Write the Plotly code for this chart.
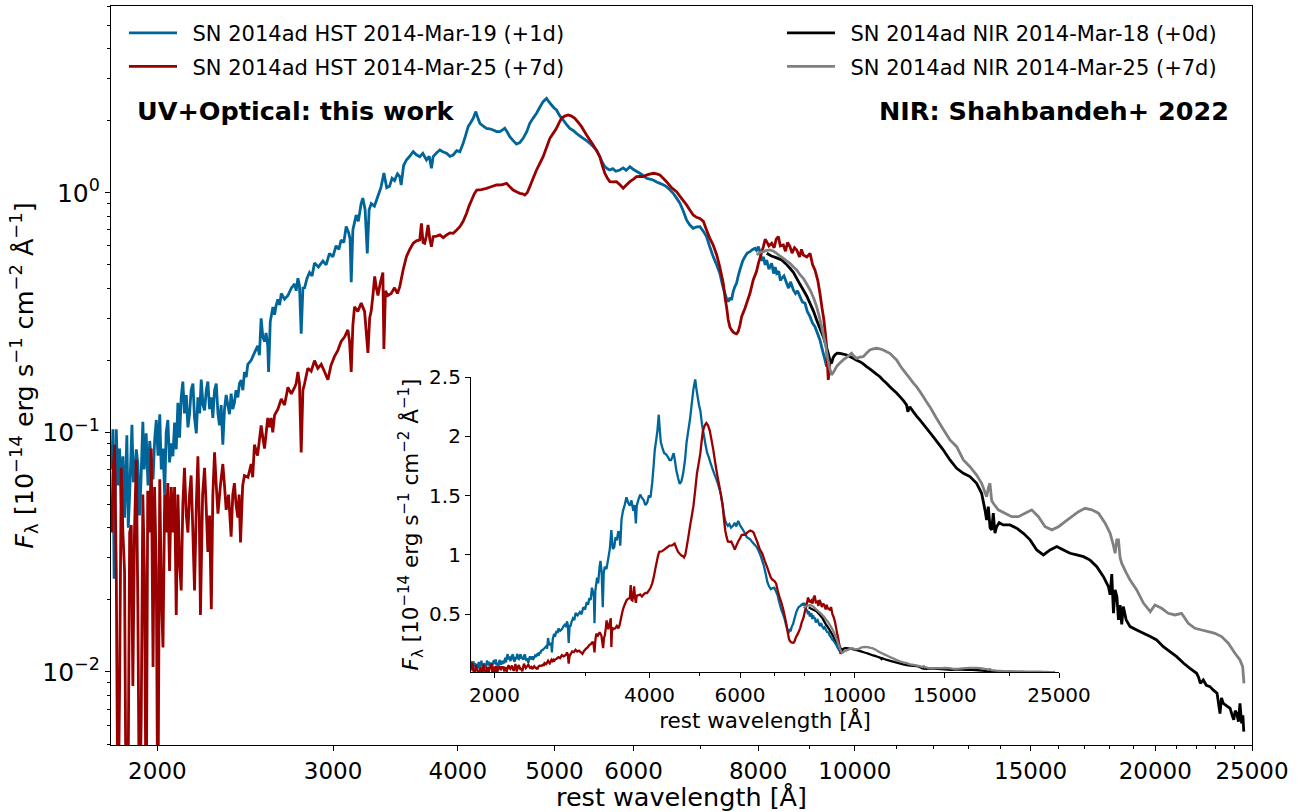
import math
import plotly.graph_objects as go

# ---------------- data (rest wavelength [A], F_lambda [1e-14 erg/s/cm2/A]) ----------------
hst_p1 = [
(1800,0.070),(1805,0.103),(1810,0.0245),(1819,0.103),(1826,0.060),(1833,0.0856),(1840,0.050),(1847,0.0795),(1854,0.0441),(1864,0.0973),(1870,0.040),(1876,0.055),(1886,0.1075),(1892,0.062),(1897,0.0661),(1905,0.085),(1912,0.0738),(1919,0.045),(1925,0.060),(1934,0.1107),(1940,0.070),(1949,0.0991),(1957,0.060),(1965,0.0921),(1972,0.075),(1980,0.0637),(1988,0.095),(1995,0.1127),(2003,0.080),(2011,0.1191),(2018,0.070),(2026,0.0856),(2034,0.055),(2041,0.100),(2049,0.1127),(2057,0.075),(2065,0.090),(2073,0.0795),(2081,0.110),(2089,0.085),(2097,0.133),(2105,0.095),(2113,0.140),(2121,0.163),(2129,0.120),(2138,0.1432),(2146,0.105),(2154,0.1191),(2162,0.150),(2171,0.160),(2179,0.115),(2188,0.0991),(2196,0.140),(2205,0.120),(2213,0.166),(2222,0.130),(2230,0.1236),(2239,0.150),(2247,0.163),(2256,0.125),(2265,0.140),(2273,0.1149),(2282,0.150),(2291,0.160),(2300,0.120),(2308,0.1069),(2317,0.130),(2326,0.0888),(2335,0.125),(2344,0.1432),(2353,0.130),(2362,0.1191),(2371,0.145),(2380,0.125),(2389,0.133),(2398,0.150),(2408,0.140),(2417,0.160),(2427,0.165),(2436,0.150),(2445,0.1786),(2455,0.170),(2464,0.1922),(2483,0.200),(2502,0.2147),(2521,0.230),(2531,0.210),(2541,0.299),(2551,0.250),(2561,0.2397),(2570,0.260),(2580,0.230),(2585,0.1786),(2595,0.290),(2611,0.3339),(2621,0.310),(2631,0.340),(2641,0.3593),(2652,0.340),(2662,0.3797),(2682,0.360),(2703,0.3727),(2724,0.400),(2745,0.4163),(2755,0.390),(2766,0.4398),(2776,0.410),(2787,0.258),(2798,0.400),(2809,0.4013),(2825,0.440),(2841,0.4649),(2858,0.450),(2874,0.5098),(2900,0.490),(2930,0.5193),(2952,0.500),(2975,0.5587),(2998,0.540),(3021,0.6013),(3040,0.580),(3056,0.6355),(3075,0.620),(3092,0.7231),(3110,0.680),(3120,0.640),(3128,0.4239),(3140,0.700),(3164,0.8072),(3180,0.760),(3200,0.900),(3213,0.950),(3230,0.850),(3246,0.5587),(3260,0.850),(3276,0.9015),(3300,0.880),(3327,0.9703),(3350,1.050),(3373,1.21),(3395,1.050),(3417,1.064),(3437,1.150),(3457,1.124),(3480,1.200),(3499,1.168),(3510,1.078),(3530,1.300),(3553,1.371),(3580,1.420),(3609,1.485),(3636,1.440),(3664,1.415),(3690,1.460),(3721,1.371),(3745,1.420),(3764,1.265),(3779,1.415),(3810,1.470),(3838,1.509),(3868,1.480),(3898,1.462),(3928,1.420),(3958,1.438),(3990,1.500),(4019,1.485),(4050,1.609),(4075,1.750),(4097,1.888),(4120,1.960),(4145,2.046),(4170,2.182),(4190,2.050),(4209,1.950),(4240,1.900),(4273,1.858),(4305,1.850),(4340,1.829),(4375,1.800),(4407,1.800),(4435,1.830),(4458,1.858),(4485,1.790),(4510,1.715),(4545,1.650),(4580,1.598),(4615,1.620),(4651,1.688),(4690,1.800),(4723,1.950),(4760,2.050),(4797,2.147),(4835,2.280),(4871,2.401),(4909,2.479),(4935,2.400),(4966,2.325),(4995,2.260),(5023,2.216),(5060,2.100),(5101,2.013),(5140,1.930),(5180,1.858),(5220,1.820),(5260,1.771),(5300,1.730),(5342,1.688),(5384,1.650),(5425,1.609),(5467,1.560),(5509,1.509),(5551,1.415),(5583,1.340),(5616,1.286),(5650,1.260),(5681,1.245),(5720,1.260),(5760,1.230),(5813,1.245),(5860,1.270),(5900,1.240),(5950,1.286),(6000,1.250),(6040,1.230),(6089,1.206),(6136,1.180),(6184,1.150),(6230,1.140),(6279,1.131),(6330,1.110),(6376,1.095),(6425,1.080),(6475,1.061),(6525,1.030),(6576,0.995),(6627,0.950),(6678,0.904),(6730,0.840),(6781,0.770),(6830,0.735),(6886,0.711),(6940,0.720),(6995,0.722),(7050,0.690),(7101,0.656),(7150,0.600),(7212,0.5414),(7270,0.500),(7322,0.4613),(7370,0.410),(7409,0.3806),(7440,0.360),(7466,0.3513),(7495,0.365),(7523,0.357),(7552,0.3868),(7580,0.405),(7610,0.419),(7640,0.450),(7669,0.4764),(7720,0.520),(7759,0.5414),(7800,0.560),(7850,0.568),(7900,0.580),(7941,0.5865),(7970,0.575),(8004,0.5958),(8040,0.560),(8070,0.520),(8097,0.540),(8130,0.500),(8159,0.5243),(8200,0.480),(8253,0.5077),(8290,0.460),(8320,0.490),(8349,0.4613),(8390,0.470),(8420,0.430),(8446,0.4395),(8490,0.450),(8543,0.419),(8580,0.400),(8620,0.425),(8676,0.3931),(8720,0.380),(8760,0.390),(8811,0.3687),(8860,0.350),(8913,0.3457),(8960,0.320),(9017,0.3041),(9070,0.285),(9120,0.2763),(9170,0.260),(9225,0.243),(9280,0.220),(9333,0.2006),(9368,0.1881)]

hst_p7 = [
(1800,0.0382),(1805,0.0661),(1812,0.0888),(1819,0.0264),(1826,0.002),(1833,0.00875),(1840,0.0712),(1847,0.0382),(1854,0.0264),(1861,0.002),(1868,0.002),(1876,0.0382),(1883,0.041),(1890,0.00875),(1897,0.0382),(1905,0.0766),(1912,0.0183),(1919,0.002),(1927,0.00675),(1934,0.055),(1941,0.0264),(1949,0.002),(1956,0.0571),(1965,0.0382),(1972,0.0856),(1980,0.0105),(1987,0.0592),(1995,0.0264),(2002,0.002),(2011,0.0637),(2018,0.0219),(2026,0.01265),(2034,0.055),(2041,0.0382),(2049,0.0614),(2057,0.0264),(2065,0.0592),(2073,0.0382),(2081,0.0592),(2089,0.0173),(2097,0.055),(2105,0.0284),(2113,0.0219),(2121,0.050),(2129,0.0712),(2138,0.045),(2146,0.0382),(2154,0.055),(2162,0.0661),(2170,0.040),(2179,0.0219),(2188,0.050),(2196,0.0795),(2203,0.045),(2209,0.0173),(2220,0.055),(2230,0.0712),(2238,0.050),(2247,0.0317),(2256,0.045),(2265,0.0183),(2273,0.055),(2282,0.0825),(2291,0.060),(2300,0.0458),(2313,0.060),(2326,0.0738),(2335,0.060),(2344,0.0475),(2357,0.055),(2371,0.0367),(2380,0.055),(2389,0.0614),(2398,0.050),(2408,0.0441),(2415,0.055),(2423,0.0347),(2435,0.060),(2445,0.0661),(2465,0.065),(2483,0.0738),(2492,0.065),(2502,0.0888),(2520,0.080),(2541,0.1069),(2551,0.095),(2561,0.0856),(2571,0.100),(2580,0.1149),(2590,0.105),(2600,0.1149),(2610,0.100),(2621,0.1181),(2641,0.125),(2662,0.138),(2682,0.130),(2703,0.1542),(2724,0.145),(2745,0.1542),(2755,0.160),(2766,0.1786),(2776,0.160),(2787,0.0825),(2798,0.150),(2809,0.160),(2830,0.1853),(2852,0.180),(2874,0.1994),(2896,0.185),(2919,0.1922),(2940,0.180),(2964,0.1659),(2985,0.190),(3009,0.207),(3033,0.220),(3056,0.2397),(3080,0.250),(3104,0.2678),(3116,0.240),(3128,0.1786),(3140,0.280),(3152,0.3339),(3176,0.320),(3201,0.3464),(3226,0.320),(3251,0.2147),(3264,0.300),(3276,0.3217),(3290,0.380),(3302,0.448),(3315,0.400),(3327,0.3727),(3345,0.420),(3365,0.4649),(3373,0.2227),(3385,0.390),(3404,0.3727),(3430,0.380),(3457,0.4013),(3480,0.380),(3499,0.4058),(3526,0.4764),(3553,0.5415),(3580,0.580),(3609,0.6155),(3636,0.630),(3664,0.6355),(3678,0.7458),(3692,0.620),(3706,0.6155),(3720,0.660),(3735,0.734),(3750,0.640),(3764,0.5958),(3779,0.656),(3810,0.660),(3838,0.667),(3868,0.650),(3898,0.667),(3928,0.680),(3958,0.6777),(3990,0.700),(4019,0.7224),(4050,0.760),(4082,0.821),(4105,0.880),(4130,0.933),(4155,0.990),(4179,1.027),(4225,1.030),(4273,1.044),(4320,1.060),(4374,1.078),(4425,1.080),(4476,1.095),(4510,1.060),(4545,1.027),(4580,1.010),(4615,0.995),(4645,0.990),(4669,0.979),(4695,1.000),(4723,1.061),(4760,1.150),(4797,1.245),(4835,1.330),(4871,1.415),(4910,1.550),(4947,1.688),(4985,1.770),(5023,1.858),(5050,1.950),(5081,2.046),(5120,2.090),(5160,2.112),(5200,2.090),(5240,2.046),(5280,1.970),(5322,1.888),(5350,1.820),(5384,1.743),(5425,1.660),(5467,1.584),(5509,1.500),(5551,1.415),(5583,1.300),(5616,1.206),(5650,1.150),(5681,1.113),(5725,1.110),(5769,1.113),(5815,1.080),(5859,1.044),(5905,1.080),(5950,1.113),(6000,1.140),(6042,1.168),(6090,1.170),(6136,1.168),(6200,1.190),(6279,1.206),(6330,1.200),(6376,1.187),(6425,1.150),(6475,1.113),(6550,1.050),(6627,1.011),(6700,0.950),(6781,0.890),(6830,0.850),(6886,0.808),(6940,0.790),(6993,0.782),(7050,0.760),(7101,0.700),(7150,0.650),(7211,0.605),(7270,0.550),(7322,0.490),(7380,0.420),(7409,0.3687),(7440,0.330),(7466,0.2945),(7495,0.275),(7523,0.2677),(7552,0.262),(7582,0.2592),(7610,0.258),(7640,0.2634),(7670,0.280),(7700,0.3041),(7760,0.330),(7789,0.3457),(7850,0.3806),(7909,0.4327),(7970,0.470),(8004,0.5077),(8060,0.560),(8097,0.5958),(8130,0.640),(8159,0.6254),(8200,0.600),(8253,0.6155),(8300,0.590),(8340,0.640),(8381,0.656),(8420,0.600),(8478,0.6057),(8520,0.570),(8560,0.620),(8609,0.5958),(8650,0.560),(8700,0.590),(8744,0.5774),(8800,0.540),(8840,0.580),(8878,0.550),(8950,0.540),(9017,0.559),(9070,0.500),(9120,0.4764),(9180,0.430),(9225,0.3806),(9270,0.330),(9310,0.2945),(9340,0.260),(9368,0.2279),(9404,0.1655),(9441,0.1943)]

nir_p0 = [
(8159,0.559),(8250,0.545),(8349,0.535),(8446,0.5243),(8530,0.505),(8609,0.4841),(8680,0.465),(8744,0.4395),(8810,0.415),(8878,0.3931),(8950,0.370),(9017,0.3457),(9090,0.320),(9155,0.2945),(9230,0.270),(9297,0.251),(9350,0.232),(9404,0.2138),(9440,0.200),(9476,0.1943),(9510,0.205),(9549,0.2104),(9600,0.214),(9661,0.2138),(9735,0.212),(9811,0.2104),(9890,0.207),(9961,0.2038),(10040,0.200),(10116,0.1974),(10195,0.193),(10273,0.1881),(10350,0.184),(10433,0.1793),(10510,0.175),(10594,0.1708),(10675,0.165),(10758,0.1603),(10840,0.155),(10926,0.1503),(11010,0.146),(11094,0.1411),(11180,0.136),(11266,0.1302),(11300,0.122),(11350,0.128),(11441,0.1221),(11530,0.117),(11617,0.1127),(11800,0.104),(12000,0.095),(12250,0.085),(12453,0.0767),(12647,0.0708),(12844,0.0675),(13040,0.0654),(13243,0.0613),(13397,0.0557),(13500,0.0475),(13552,0.0431),(13605,0.049),(13660,0.040),(13710,0.0392),(13762,0.046),(13815,0.038),(13868,0.0404),(13950,0.042),(14082,0.0411),(14302,0.0411),(14527,0.0398),(14752,0.0379),(14981,0.0356),(15213,0.0323),(15449,0.0308),(15691,0.0323),(15934,0.0334),(16182,0.0323),(16431,0.0313),(16686,0.0308),(16948,0.0303),(17207,0.0293),(17475,0.0275),(17745,0.025),(17950,0.0227),(18020,0.021),(18089,0.0256),(18160,0.0176),(18230,0.022),(18305,0.0206),(18370,0.0165),(18441,0.019),(18510,0.0158),(18578,0.01875),(18700,0.0165),(18870,0.01547),(19162,0.01497),(19460,0.0145),(19771,0.01405),(20063,0.0136),(20374,0.01276),(20689,0.01216),(21009,0.01159),(21354,0.01087),(21665,0.01036),(22001,0.00988),(22100,0.0095),(22193,0.00897),(22342,0.00926),(22500,0.0088),(22689,0.00869),(22870,0.0084),(23064,0.00815),(23220,0.0067),(23300,0.0078),(23400,0.0074),(23600,0.0072),(23765,0.00706),(23880,0.0066),(23970,0.00631),(24050,0.0069),(24135,0.00673),(24230,0.0062),(24316,0.0074),(24410,0.0061),(24480,0.0066),(24530,0.00564)]

nir_p7 = [
(7972,0.55),(8040,0.565),(8097,0.568),(8160,0.575),(8219,0.5774),(8290,0.570),(8349,0.559),(8410,0.545),(8478,0.5327),(8540,0.520),(8609,0.5077),(8680,0.490),(8744,0.4764),(8810,0.455),(8878,0.4395),(8950,0.415),(9017,0.3931),(9090,0.365),(9155,0.3348),(9210,0.305),(9261,0.2763),(9310,0.250),(9354,0.2279),(9390,0.205),(9426,0.1881),(9476,0.1736),(9530,0.180),(9586,0.1881),(9660,0.195),(9735,0.2006),(9830,0.207),(9925,0.2138),(9980,0.208),(10039,0.2038),(10110,0.206),(10195,0.2071),(10270,0.214),(10351,0.2208),(10430,0.223),(10511,0.2244),(10590,0.223),(10675,0.2208),(10760,0.217),(10841,0.2138),(10925,0.207),(11010,0.2006),(11090,0.191),(11179,0.1822),(11265,0.175),(11352,0.1681),(11440,0.161),(11529,0.1552),(11620,0.148),(11707,0.1411),(11800,0.134),(11888,0.1281),(11980,0.121),(12072,0.1145),(12260,0.103),(12453,0.093),(12647,0.0872),(12844,0.0767),(13040,0.0719),(13243,0.0664),(13397,0.0613),(13552,0.0539),(13610,0.059),(13657,0.0613),(13710,0.052),(13762,0.0506),(13921,0.0475),(14138,0.046),(14358,0.0445),(14584,0.0445),(14810,0.046),(15039,0.0475),(15273,0.0445),(15510,0.0404),(15752,0.0392),(15997,0.0404),(16242,0.0424),(16495,0.0445),(16751,0.0467),(17012,0.0482),(17277,0.0475),(17542,0.046),(17815,0.0418),(18021,0.0379),(18150,0.034),(18230,0.0313),(18300,0.0356),(18371,0.0356),(18440,0.030),(18511,0.0284),(18700,0.026),(18870,0.0242),(19162,0.022),(19460,0.0194),(19771,0.01786),(19983,0.01905),(20293,0.01845),(20609,0.01758),(20929,0.0173),(21250,0.01758),(21580,0.01597),(21916,0.01522),(22257,0.01497),(22603,0.01474),(22949,0.0145),(23306,0.01405),(23669,0.01318),(24037,0.01197),(24316,0.01123),(24467,0.01053),(24541,0.00897)]

series_names = ["SN 2014ad HST 2014-Mar-19 (+1d)", "SN 2014ad HST 2014-Mar-25 (+7d)",
                "SN 2014ad NIR 2014-Mar-18 (+0d)", "SN 2014ad NIR 2014-Mar-25 (+7d)"]
main_xticks = [2000, 3000, 4000, 5000, 6000, 8000, 10000, 15000, 20000, 25000]
main_xminor = [7000, 9000, 11000, 12000, 13000, 14000, 16000, 17000, 18000, 19000, 21000, 22000, 23000, 24000]
inset_xticks = [2000, 4000, 6000, 10000, 15000, 25000]
inset_xminor = [3000, 5000, 7000, 8000, 9000, 20000]
main_yticks = [0.01, 0.1, 1]
main_yticktext = ["10<sup>\u22122</sup>", "10<sup>\u22121</sup>", "10<sup>0</sup>"]
main_yminor = [m * 10.0 ** e for e in (-3, -2, -1, 0) for m in range(2, 10)]
inset_yticks = [0.5, 1, 1.5, 2, 2.5]
inset_yticktext = ["0.5", "1", "1.5", "2", "2.5"]

# ---------------- styling ----------------
FONT = "DejaVu Sans"
colors = ["#006699", "#990000", "#000000", "#808080"]
legends = ["legend", "legend2", "legend3", "legend4"]
datasets = [hst_p1, hst_p7, nir_p0, nir_p7]
W, H = 1299, 812
ML, MR, MT, MB = 111, 47, 6, 67
PW, PH = W - ML - MR, H - MT - MB

def px_x(p):
    return (p - ML) / PW
def px_y(p):
    return (H - MB - p) / PH

fig = go.Figure()
for d, name, col, lg in zip(datasets, series_names, colors, legends):
    fig.add_trace(go.Scatter(x=[a for a, b in d], y=[b for a, b in d], mode="lines",
                             name="\u2002" + name,
                             line=dict(color=col, width=2.8, simplify=False), legend=lg,
                             xaxis="x", yaxis="y"))
for d, name, col in zip(datasets, series_names, colors):
    fig.add_trace(go.Scatter(x=[a for a, b in d], y=[b for a, b in d], mode="lines", name=name,
                             line=dict(color=col, width=2.3, simplify=False), showlegend=False,
                             xaxis="x2", yaxis="y2"))

leg_common = dict(font=dict(family=FONT, size=21, color="black"), bgcolor="rgba(0,0,0,0)",
                  borderwidth=0, itemwidth=48, xanchor="left", yanchor="middle",
                  itemclick=False, itemdoubleclick=False)
ytitle = ("<i>F</i><sub>\u03bb</sub> [10<sup>\u221214</sup> erg s<sup>\u22121</sup> "
          "cm<sup>\u22122</sup> \u00c5<sup>\u22121</sup>]")

axis_common = dict(showline=True, linecolor="black", linewidth=1.2, ticks="outside",
                   tickcolor="black", tickwidth=1.2, showgrid=False, zeroline=False,
                   automargin=False)

fig.update_layout(
    width=W, height=H, autosize=False,
    margin=dict(l=ML, r=MR, t=MT, b=MB, pad=0, autoexpand=False),
    paper_bgcolor="white", plot_bgcolor="rgba(0,0,0,0)",
    font=dict(family=FONT, color="black"),
    legend=dict(x=px_x(124), y=px_y(33.3), **leg_common),
    legend2=dict(x=px_x(124), y=px_y(66.7), **leg_common),
    legend3=dict(x=px_x(782), y=px_y(33.3), **leg_common),
    legend4=dict(x=px_x(782), y=px_y(66.7), **leg_common),
    xaxis=dict(type="log", domain=[0, 1], anchor="y",
               range=[math.log10(1797), math.log10(25000)],
               tickmode="array", tickvals=main_xticks, ticktext=[str(v) for v in main_xticks],
               ticklen=5, tickfont=dict(size=23), mirror=True,
               minor=dict(tickmode="array", tickvals=main_xminor, ticks="outside", ticklen=3,
                          tickwidth=1, tickcolor="black"),
               title=dict(text="rest wavelength [\u00c5]", font=dict(size=25.5), standoff=2),
               **axis_common),
    yaxis=dict(type="log", domain=[0, 1], anchor="x",
               range=[-2.3047, 0.7796],
               tickmode="array", tickvals=main_yticks, ticktext=main_yticktext,
               ticklen=5, tickfont=dict(size=25), mirror=True,
               minor=dict(tickmode="array", tickvals=main_yminor, ticks="outside", ticklen=3,
                          tickwidth=1, tickcolor="black"),
               title=dict(text=ytitle, font=dict(size=25.5), standoff=0),
               **axis_common),
    xaxis2=dict(type="log", domain=[px_x(471), px_x(1059)], anchor="y2",
                range=[math.log10(1800), math.log10(25000)],
                tickmode="array", tickvals=inset_xticks, ticktext=[str(v) for v in inset_xticks],
                ticklen=5, tickfont=dict(size=20),
                minor=dict(tickmode="array", tickvals=inset_xminor, ticks="outside", ticklen=3,
                           tickwidth=1, tickcolor="black"),
                title=dict(text="rest wavelength [\u00c5]", font=dict(size=21.5), standoff=2),
                **axis_common),
    yaxis2=dict(type="linear", domain=[px_y(672), px_y(377)], anchor="x2",
                range=[0.0126, 2.5],
                tickmode="array", tickvals=inset_yticks, ticktext=inset_yticktext,
                ticklen=5, tickfont=dict(size=20),
                title=dict(text=ytitle, font=dict(size=21.5), standoff=4),
                **axis_common),
    annotations=[
        dict(text="<b>UV+Optical: this work</b>", xref="paper", yref="paper",
             x=px_x(135), y=px_y(111), xanchor="left", yanchor="middle", showarrow=False,
             font=dict(family=FONT, size=25.5, color="black")),
        dict(text="<b>NIR: Shahbandeh+ 2022</b>", xref="paper", yref="paper",
             x=px_x(1231), y=px_y(111), xanchor="right", yanchor="middle", showarrow=False,
             font=dict(family=FONT, size=25.5, color="black")),
    ],
)

fig.write_html("out.html", config={"displayModeBar": False},
               post_script="document.body.style.margin='0';")
